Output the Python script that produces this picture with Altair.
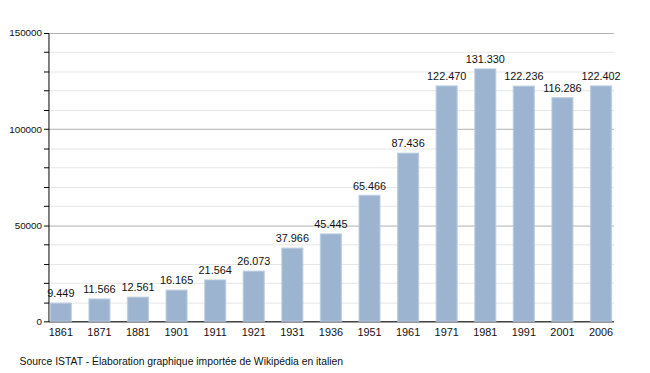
import altair as alt
import pandas as pd

years = ["1861", "1871", "1881", "1901", "1911", "1921", "1931", "1936",
         "1951", "1961", "1971", "1981", "1991", "2001", "2006"]
population = [9449, 11566, 12561, 16165, 21564, 26073, 37966, 45445,
              65466, 87436, 122470, 131330, 122236, 116286, 122402]
y_ticks = list(range(0, 150001, 10000))
source_note = "Source ISTAT - Élaboration graphique importée de Wikipédia en italien"

df = pd.DataFrame({
    "year": years,
    "pop": population,
    "label": [f"{v:,}".replace(",", ".") for v in population],
})

FONT = "Liberation Sans"

x = alt.X(
    "year:N", sort=years, title=None,
    scale=alt.Scale(paddingInner=0.46, paddingOuter=0.05),
    axis=alt.Axis(labelAngle=0, ticks=False, labelPadding=5, labelFontSize=11,
                  labelFont=FONT, labelColor="#111", domainColor="#000",
                  domainWidth=1, grid=False),
)
y = alt.Y(
    "pop:Q", title=None,
    scale=alt.Scale(domain=[0, 150000], nice=False),
    axis=alt.Axis(values=y_ticks,
                  labelExpr="datum.value % 50000 === 0 ? datum.value : ''",
                  labelOverlap=False,
                  labelFontSize=10, labelFont=FONT, labelColor="#111",
                  labelPadding=2, tickSize=5, tickColor="#000",
                  domainColor="#000", domainWidth=1,
                  gridColor={"condition": {"test": "datum.value % 50000 === 0", "value": "#b0b0b0"}, "value": "#e6e6e6"},
                  gridWidth=1),
)

bars = alt.Chart(df).mark_bar(
    color="#9cb4d0", stroke="#b4c8de", strokeWidth=1.5, strokeOpacity=0.7
).encode(x=x, y=y)

text = alt.Chart(df).mark_text(
    baseline="bottom", dy=-4, fontSize=11, font=FONT, color="#111"
).encode(x=x, y=y, text="label:N")

chart = alt.layer(bars, text).properties(
    width=572, height=292,
    autosize=alt.AutoSizeParams(type="none"),
    padding={"left": 41, "top": 23, "right": 29, "bottom": 50},
    title=alt.TitleParams(text=source_note, orient="bottom", anchor="start",
                          fontSize=10.5, font=FONT, fontWeight="normal",
                          color="#111", dx=11, offset=20),
).configure_view(stroke=None)

chart.save("out.html", embed_options={"renderer": "svg", "actions": False})
